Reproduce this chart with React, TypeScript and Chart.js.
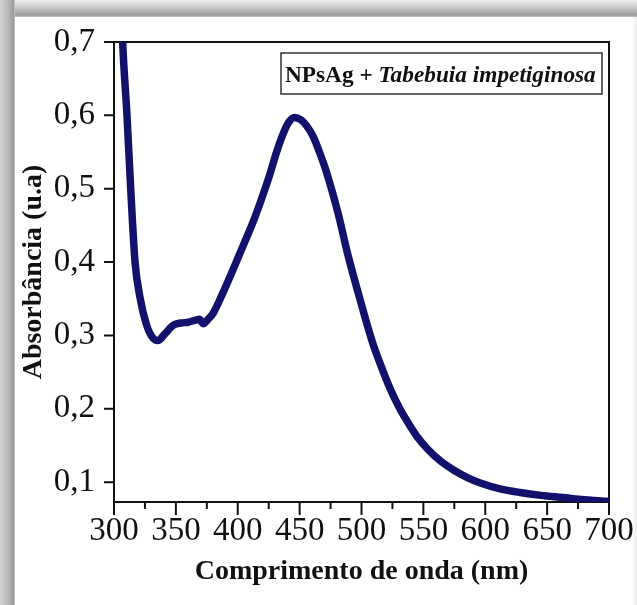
import React, { useEffect, useRef } from 'react';
import { Chart, registerables } from 'chart.js';

Chart.register(...registerables);

// Wavelength (nm)
const wavelengths = [
  305, 307, 310.5, 313.5, 317, 321, 326, 330, 335.5, 341, 348, 354, 360, 366, 369, 372, 376, 380,
  388, 396, 404, 412, 419, 426, 431, 436, 441, 446, 451, 456, 461, 466, 472, 481, 489, 499, 509,
  515, 523, 531, 538, 545, 553, 563, 575, 586, 596, 612, 628, 645, 663, 680, 698, 700,
];
// Absorbance (u.a)
const absorbance = [
  0.8, 0.7, 0.6, 0.5, 0.4, 0.352, 0.316, 0.3, 0.293, 0.302, 0.314, 0.317, 0.318, 0.321, 0.322, 0.316, 0.322, 0.33,
  0.358, 0.389, 0.421, 0.453, 0.485, 0.52, 0.548, 0.572, 0.59, 0.597, 0.594, 0.585, 0.571, 0.55, 0.521, 0.467, 0.41, 0.348, 0.29,
  0.262, 0.228, 0.2, 0.18, 0.162, 0.146, 0.13, 0.116, 0.106, 0.099, 0.091, 0.086, 0.082, 0.079, 0.076, 0.074, 0.0735,
];

const xTickValues = [300, 325, 350, 375, 400, 425, 450, 475, 500, 525, 550, 575, 600, 625, 650, 675, 700];
const xTickLabels = ['300', '', '350', '', '400', '', '450', '', '500', '', '550', '', '600', '', '650', '', '700'];
const yTickValues = [0.1, 0.2, 0.3, 0.4, 0.5, 0.6, 0.7];
const yTickLabels = ['0,1', '0,2', '0,3', '0,4', '0,5', '0,6', '0,7'];

const xTitle = 'Comprimento de onda (nm)';
const yTitle = 'Absorbância (u.a)';
const legendPrefix = 'NPsAg + ';
const legendSpecies = 'Tabebuia impetiginosa';

const SERIF = "'Liberation Serif', 'Times New Roman', serif";
const LINE_COLOR = '#12126c';

const framePlugin = {
  id: 'frameAndLegend',
  beforeDatasetsDraw(chart: any) {
    const { ctx, chartArea: a, scales } = chart;
    ctx.save();
    ctx.strokeStyle = '#111';
    ctx.lineWidth = 2;
    ctx.strokeRect(a.left, a.top, a.right - a.left, a.bottom - a.top);
    ctx.beginPath();
    xTickValues.forEach((v, i) => {
      const px = scales.x.getPixelForValue(v);
      const len = xTickLabels[i] ? 13 : 7;
      ctx.moveTo(px, a.bottom);
      ctx.lineTo(px, a.bottom + len);
    });
    yTickValues.forEach((v) => {
      const py = scales.y.getPixelForValue(v);
      ctx.moveTo(a.left, py);
      ctx.lineTo(a.left - 10, py);
    });
    ctx.stroke();
    ctx.restore();
  },
  afterDraw(chart: any) {
    const { ctx, chartArea: a } = chart;
    ctx.save();
    const bx = a.left + 167;
    const by = a.top + 11;
    const bw = 321;
    const bh = 41;
    ctx.strokeStyle = '#333';
    ctx.lineWidth = 1.5;
    ctx.strokeRect(bx, by, bw, bh);
    ctx.fillStyle = '#111';
    ctx.textBaseline = 'alphabetic';
    ctx.textAlign = 'left';
    ctx.font = `bold 23.3px ${SERIF}`;
    const tx = bx + 4;
    const ty = by + 29;
    ctx.fillText(legendPrefix, tx, ty);
    const w = ctx.measureText(legendPrefix).width;
    ctx.font = `italic bold 23.3px ${SERIF}`;
    ctx.fillText(legendSpecies, tx + w, ty);
    ctx.restore();
  },
};

export default function App() {
  const canvasRef = useRef<HTMLCanvasElement | null>(null);

  useEffect(() => {
    document.body.style.margin = '0';
    const canvas = canvasRef.current;
    if (!canvas) return;
    const chart = new Chart(canvas, {
      type: 'line',
      data: {
        datasets: [
          {
            data: wavelengths.map((x, i) => ({ x, y: absorbance[i] })),
            borderColor: LINE_COLOR,
            borderWidth: 7.5,
            pointRadius: 0,
            cubicInterpolationMode: 'monotone',
            fill: false,
            clip: 0,
          } as any,
        ],
      },
      options: {
        animation: false,
        responsive: false,
        layout: { padding: { top: 42, right: 28, left: 0, bottom: 0 } },
        plugins: { legend: { display: false }, tooltip: { enabled: false } },
        scales: {
          x: {
            type: 'linear',
            min: 300,
            max: 700,
            grid: { display: false, drawTicks: false },
            border: { display: false },
            afterBuildTicks: (s: any) => {
              s.ticks = xTickValues.map((v) => ({ value: v }));
            },
            afterFit: (s: any) => {
              s.height = 103;
              s.paddingLeft = 0;
              s.paddingRight = 0;
            },
            ticks: {
              autoSkip: false,
              maxRotation: 0,
              minRotation: 0,
              padding: 10,
              color: '#111',
              font: { family: SERIF, size: 33 },
              callback: (_v: any, i: number) => xTickLabels[i],
            },
            title: {
              display: true,
              text: xTitle,
              color: '#111',
              font: { family: SERIF, size: 28, weight: 'bold' },
              padding: { top: 0, bottom: 16 },
            },
          },
          y: {
            type: 'linear',
            min: 0.073,
            max: 0.7,
            grid: { display: false, drawTicks: false },
            border: { display: false },
            afterBuildTicks: (s: any) => {
              s.ticks = yTickValues.map((v) => ({ value: v }));
            },
            afterFit: (s: any) => {
              s.width = 114;
              s.paddingTop = 0;
              s.paddingBottom = 0;
            },
            ticks: {
              padding: 19,
              color: '#111',
              font: { family: SERIF, size: 33 },
              callback: (_v: any, i: number) => yTickLabels[i],
            },
            title: {
              display: true,
              text: yTitle,
              color: '#111',
              font: { family: SERIF, size: 28, weight: 'bold' },
              padding: { top: 17, bottom: 0 },
            },
          },
        },
      } as any,
      plugins: [framePlugin],
    });
    return () => chart.destroy();
  }, []);

  return (
    <div style={{ position: 'relative', width: 637, height: 605, background: '#fff', overflow: 'hidden' }}>
      <div
        style={{
          position: 'absolute',
          left: 0,
          top: 0,
          width: 637,
          height: 17,
          background: 'linear-gradient(to bottom, #eeeeee 0%, #c9c9c9 45%, #9d9d9d 88%, #c4c4c4 100%)',
        }}
      />
      <div
        style={{
          position: 'absolute',
          left: 0,
          top: 0,
          width: 15,
          height: 605,
          background: 'linear-gradient(to right, #d6d6d6 0%, #b4b4b4 60%, #9a9a9a 90%, #cfcfcf 100%)',
        }}
      />
      <div
        style={{
          position: 'absolute',
          right: 0,
          top: 17,
          width: 5,
          height: 588,
          background: 'linear-gradient(to right, #ffffff 0%, #ececec 100%)',
        }}
      />
      <canvas ref={canvasRef} width={637} height={605} style={{ position: 'absolute', left: 0, top: 0 }} />
    </div>
  );
}
